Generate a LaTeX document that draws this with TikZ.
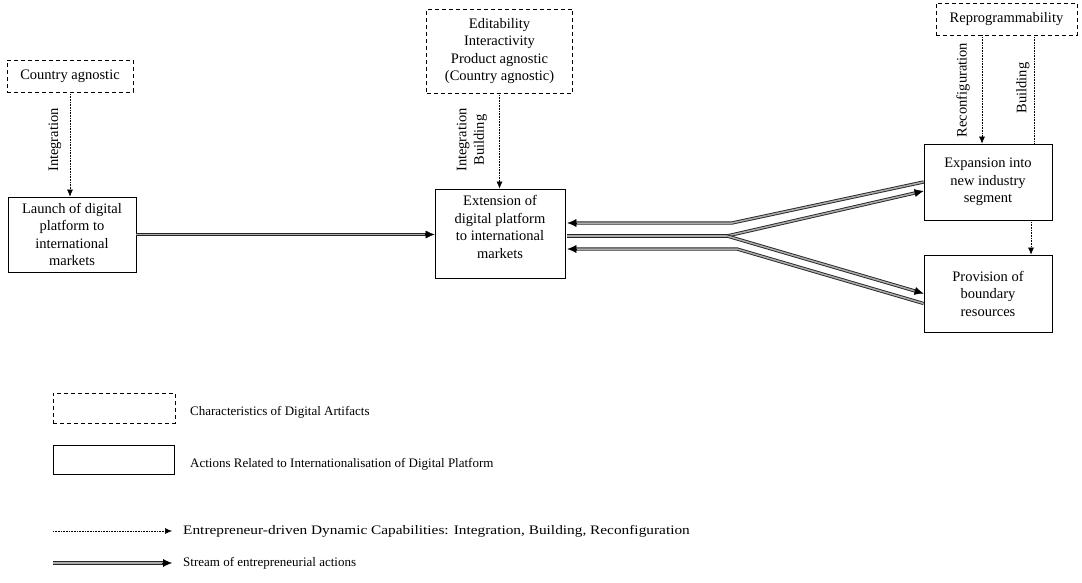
\documentclass[tikz,border=0pt]{standalone}
\usepackage{fontspec}
\setmainfont{Liberation Serif}
\newfontfamily\widefont[FakeStretch=1.18]{Liberation Serif}
\usetikzlibrary{arrows.meta,calc}
\begin{document}
\begin{tikzpicture}[x=1pt,y=-1pt,
 txt/.style={font=\fontsize{14.5}{17.5}\selectfont, align=center, inner sep=0pt},
 charbox/.style={draw, line width=0.8pt, dash pattern=on 4pt off 3pt, inner sep=0pt},
 actbox/.style={draw, line width=0.8pt, inner sep=0pt},
 dyn/.style={densely dotted, line width=0.6pt, -{Latex[length=7pt,width=6pt]}},
 dynline/.style={densely dotted, line width=0.6pt},
 stream/.style={draw=black!85, line width=0.9pt, double=gray!65, double distance=1.5pt},
 tipa/.style={line width=0.4pt, -{Latex[length=9pt,width=8pt]}},
 leg/.style={font=\fontsize{13}{15.6}\selectfont, anchor=west, inner sep=0pt},
 rot/.style={txt, rotate=90}
]
\useasboundingbox (0,0) rectangle (1082,583);

% boxes
\node[charbox, txt, minimum width=126, minimum height=32] (ca) at (70,76) {Country agnostic};
\node[actbox, txt, minimum width=128, minimum height=75] (launch) at (72,234.5) {Launch of digital\\platform to\\international\\markets};
\node[charbox, txt, minimum width=146, minimum height=84] (edit) at (499.5,51) {Editability\\Interactivity\\Product agnostic\\(Country agnostic)};
\node[actbox, minimum width=130, minimum height=89] (ext) at (500,233.5) {};
\node[txt] (exttx) at (500,227) {Extension of\\digital platform\\to international\\markets};
\node[charbox, txt, minimum width=141, minimum height=32] (rep) at (1006.5,19) {Reprogrammability};
\node[actbox, txt, minimum width=128, minimum height=76] (exp) at (988,182) {Expansion into\\new industry\\segment};
\node[actbox, txt, minimum width=128, minimum height=77] (prov) at (988,293.5) {Provision of\\boundary\\resources};

% dynamic capabilities
\draw[dyn] (ca.south) -- (ca.south |- launch.north);
\node[rot] (l1) at (55,140) {Integration};
\draw[dyn] (edit.south) -- (edit.south |- ext.north);
\node[rot] (l2) at (472,140) {Integration\\Building};
\coordinate (rcs) at ($(rep.south)+(-24.5,0)$);
\coordinate (bls) at ($(rep.south)+(27.5,0)$);
\draw[dyn] (rcs) -- (rcs |- exp.north);
\draw[dynline] (bls) -- (bls |- exp.north);
\node[rot] (l3) at (963,90) {Reconfiguration};
\node[rot] (l4) at (1023,88) {Building};
\coordinate (ebs) at ($(exp.south)+(43,0)$);
\draw[dyn] (ebs) -- (ebs |- prov.north);

% streams
\coordinate (lt) at (ext.west |- launch.east);
\draw[stream, shorten >=5pt] (launch.east) -- (lt);
\draw[tipa] ($(lt)+(-10,0)$) -- (lt);
\coordinate (split) at (727,236);
\coordinate (r1) at (732,223);
\coordinate (r2) at (737,249);
\draw[stream] ($(ext.east |- split)+(2,0)$) -- (split);
\coordinate (e1) at ($(exp.west)+(0,9)$);
\draw[stream, shorten >=5pt] (split) -- (e1);
\draw[tipa] ($(e1)!10pt!(split)$) -- (e1);
\draw[stream, shorten >=5pt] (split) -- (prov.west);
\draw[tipa] ($(prov.west)!10pt!(split)$) -- (prov.west);
\coordinate (t1) at ($(ext.east |- r1)+(2,0)$);
\draw[stream, shorten >=5pt] (exp.west) -- (r1) -- (t1);
\draw[tipa] ($(t1)+(10,0)$) -- (t1);
\coordinate (s2) at ($(prov.west)+(0,10)$);
\coordinate (t2) at ($(ext.east |- r2)+(2,0)$);
\draw[stream, shorten >=5pt] (s2) -- (r2) -- (t2);
\draw[tipa] ($(t2)+(10,0)$) -- (t2);

% legend
\node[charbox, minimum width=122, minimum height=30] (lg1) at (114,408) {};
\node[leg] (lg1t) at (190,412) {Characteristics of Digital Artifacts};
\node[actbox, minimum width=121, minimum height=29] (lg2) at (113.5,459.5) {};
\node[leg] (lg2t) at (190,464) {Actions Related to Internationalisation of Digital Platform};
\node[leg] (lg3t) at (183,531) {\widefont Entrepreneur-driven Dynamic Capabilities: Integration, Building, Reconfiguration};
\node[leg] (lg4t) at (183,563) {Stream of entrepreneurial actions};
\coordinate (d0) at (53,531);
\coordinate (d1) at ($(lg3t.west)+(-11,0)$);
\draw[dyn] (d0) -- (d1);
\coordinate (s0) at (53,563);
\coordinate (s1) at ($(lg4t.west)+(-11,0)$);
\draw[stream, shorten >=5pt] (s0) -- (s1);
\draw[tipa] ($(s1)+(-10,0)$) -- (s1);
\end{tikzpicture}
\end{document}
